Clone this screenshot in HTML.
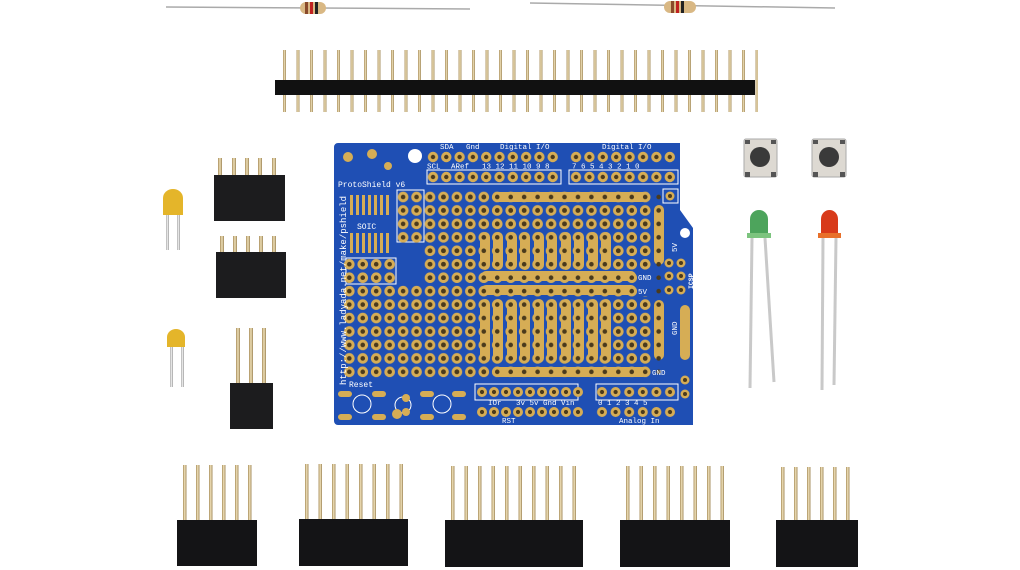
<!DOCTYPE html>
<html><head><style>html,body{margin:0;padding:0;background:#fff;width:1020px;height:570px;overflow:hidden}</style></head>
<body>
<svg width="1020" height="570" viewBox="0 0 1020 570" xmlns="http://www.w3.org/2000/svg" font-family="Liberation Mono, monospace">
<defs>
<linearGradient id="pin" x1="0" x2="1"><stop offset="0" stop-color="#a88e5c"/><stop offset="0.5" stop-color="#efe0b8"/><stop offset="1" stop-color="#9c8455"/></linearGradient>
<linearGradient id="leg" x1="0" x2="1"><stop offset="0" stop-color="#aaa"/><stop offset="0.5" stop-color="#f2f2f2"/><stop offset="1" stop-color="#999"/></linearGradient>
<pattern id="hole" width="13.45" height="13.45" patternUnits="userSpaceOnUse" x="423.3" y="190.3">
<circle cx="6.7" cy="6.7" r="5.3" fill="#d6ad55"/><circle cx="6.7" cy="6.7" r="2.3" fill="#4a3a1c"/></pattern>
<pattern id="dot" width="13.45" height="13.45" patternUnits="userSpaceOnUse" x="423.3" y="190.3">
<circle cx="6.7" cy="6.7" r="2.3" fill="#4a3a1c"/></pattern>
<pattern id="hA" width="13.3" height="40" patternUnits="userSpaceOnUse" x="426.35" y="150">
<circle cx="6.65" cy="7" r="5.2" fill="#d6ad55"/><circle cx="6.65" cy="7" r="2.2" fill="#4a3a1c"/>
<circle cx="6.65" cy="27" r="5.2" fill="#d6ad55"/><circle cx="6.65" cy="27" r="2.2" fill="#4a3a1c"/></pattern>
<pattern id="hB" width="13.4" height="40" patternUnits="userSpaceOnUse" x="569.3" y="150">
<circle cx="6.7" cy="7" r="5.2" fill="#d6ad55"/><circle cx="6.7" cy="7" r="2.2" fill="#4a3a1c"/>
<circle cx="6.7" cy="27" r="5.2" fill="#d6ad55"/><circle cx="6.7" cy="27" r="2.2" fill="#4a3a1c"/></pattern>
<pattern id="hC" width="12" height="40" patternUnits="userSpaceOnUse" x="476" y="385">
<circle cx="6" cy="7" r="5" fill="#d6ad55"/><circle cx="6" cy="7" r="2.1" fill="#4a3a1c"/>
<circle cx="6" cy="27" r="5" fill="#d6ad55"/><circle cx="6" cy="27" r="2.1" fill="#4a3a1c"/></pattern>
<pattern id="hD" width="13.6" height="40" patternUnits="userSpaceOnUse" x="595.3" y="385">
<circle cx="6.7" cy="7" r="5" fill="#d6ad55"/><circle cx="6.7" cy="7" r="2.1" fill="#4a3a1c"/>
<circle cx="6.7" cy="27" r="5" fill="#d6ad55"/><circle cx="6.7" cy="27" r="2.1" fill="#4a3a1c"/></pattern>
<pattern id="p135" width="13.5" height="10" patternUnits="userSpaceOnUse" x="278"><rect x="5" y="0" width="3" height="10" fill="url(#pin)"/></pattern>
</defs>

<!-- resistors -->
<line x1="166" y1="7" x2="470" y2="9" stroke="#aaa" stroke-width="1.5"/>
<rect x="300" y="2" width="26" height="12" rx="6" fill="#d9b884"/>
<rect x="305" y="2" width="3" height="12" fill="#8a4a2a"/><rect x="310" y="2" width="3" height="12" fill="#c02020"/><rect x="315" y="2" width="3" height="12" fill="#222"/>
<line x1="530" y1="3" x2="835" y2="8" stroke="#aaa" stroke-width="1.5"/>
<rect x="664" y="1" width="32" height="12" rx="6" fill="#d9b884"/>
<rect x="671" y="1" width="3" height="12" fill="#8a4a2a"/><rect x="676" y="1" width="3" height="12" fill="#c02020"/><rect x="681" y="1" width="3" height="12" fill="#222"/>

<!-- long header -->
<rect x="278" y="50" width="480" height="62" fill="url(#p135)"/>
<rect x="275" y="80" width="480" height="15" fill="#111"/>

<!-- left headers -->
<g fill="url(#pin)">
<rect x="218" y="158" width="4" height="20"/><rect x="232" y="158" width="4" height="20"/><rect x="245" y="158" width="4" height="20"/><rect x="258" y="158" width="4" height="20"/><rect x="272" y="158" width="4" height="20"/>
<rect x="220" y="236" width="4" height="18"/><rect x="233" y="236" width="4" height="18"/><rect x="246" y="236" width="4" height="18"/><rect x="259" y="236" width="4" height="18"/><rect x="272" y="236" width="4" height="18"/>
<rect x="236" y="328" width="4" height="56"/><rect x="249" y="328" width="4" height="56"/><rect x="262" y="328" width="4" height="56"/>
</g>
<rect x="214" y="175" width="71" height="46" fill="#1c1c1e"/>
<rect x="216" y="252" width="70" height="46" fill="#1c1c1e"/>
<rect x="230" y="383" width="43" height="46" fill="#1c1c1e"/>

<!-- capacitors -->
<rect x="166" y="210" width="3" height="40" fill="url(#leg)"/><rect x="177" y="210" width="3" height="40" fill="url(#leg)"/>
<path d="M163 215 V198 a10 9 0 0 1 20 0 V215 Z" fill="#e4b52a"/>
<rect x="170" y="342" width="3" height="45" fill="url(#leg)"/><rect x="181" y="342" width="3" height="45" fill="url(#leg)"/>
<path d="M167 347 V337 a9 8 0 0 1 18 0 V347 Z" fill="#e4b52a"/>

<!-- board -->
<path d="M338 143 H680 V210 L693 228 V425 H338 a4 4 0 0 1 -4 -4 V147 a4 4 0 0 1 4 -4Z" fill="#1f4fb4"/>
<circle cx="685" cy="233" r="5" fill="#fff"/>
<circle cx="415" cy="156" r="7" fill="#fff"/>
<!-- header silk boxes -->
<g fill="none" stroke="#fff" stroke-width="1">
<rect x="427" y="170" width="134" height="14"/><rect x="569" y="170" width="109" height="14"/>
<rect x="397" y="190" width="27" height="52"/><rect x="346" y="258" width="50" height="26"/>
<rect x="475" y="384" width="103" height="16"/><rect x="596" y="384" width="82" height="16"/>
<rect x="663" y="189" width="15" height="14"/>
</g>
<!-- top header holes -->
<rect x="426" y="150" width="134" height="34" fill="url(#hA)"/>
<rect x="569" y="150" width="108" height="34" fill="url(#hB)"/>
<!-- main grid -->
<rect x="423" y="190" width="229" height="189" fill="url(#hole)"/>
<rect x="342" y="284" width="81" height="95" fill="url(#hole)"/>
<rect x="396" y="190" width="27" height="54" fill="url(#hole)"/>
<rect x="342" y="257" width="54" height="27" fill="url(#hole)"/>
<!-- ICSP holes -->
<g fill="#d6ad55"><circle cx="669" cy="263" r="4.5"/><circle cx="681" cy="263" r="4.5"/><circle cx="669" cy="276" r="4.5"/><circle cx="681" cy="276" r="4.5"/><circle cx="669" cy="290" r="4.5"/><circle cx="681" cy="290" r="4.5"/><circle cx="685" cy="380" r="4.5"/><circle cx="685" cy="394" r="4.5"/><circle cx="670" cy="196" r="4.5"/></g>
<g fill="#4a3a1c"><circle cx="669" cy="263" r="2"/><circle cx="681" cy="263" r="2"/><circle cx="669" cy="276" r="2"/><circle cx="681" cy="276" r="2"/><circle cx="669" cy="290" r="2"/><circle cx="681" cy="290" r="2"/><circle cx="685" cy="380" r="2"/><circle cx="685" cy="394" r="2"/><circle cx="670" cy="196" r="2"/></g>
<!-- SOIC pads -->
<g fill="#d6ad55"><rect x="350" y="195" width="3" height="20"/><rect x="356" y="195" width="3" height="20"/><rect x="362" y="195" width="3" height="20"/><rect x="368" y="195" width="3" height="20"/><rect x="374" y="195" width="3" height="20"/><rect x="380" y="195" width="3" height="20"/><rect x="386" y="195" width="3" height="20"/>
<rect x="350" y="233" width="3" height="20"/><rect x="356" y="233" width="3" height="20"/><rect x="362" y="233" width="3" height="20"/><rect x="368" y="233" width="3" height="20"/><rect x="374" y="233" width="3" height="20"/><rect x="380" y="233" width="3" height="20"/><rect x="386" y="233" width="3" height="20"/></g>
<!-- strips -->
<g fill="#d6ad55">
<rect x="492" y="192" width="156" height="10" rx="5"/>
<rect x="481" y="271" width="155" height="10" rx="5"/>
<rect x="481" y="285" width="155" height="10" rx="5"/>
<rect x="492" y="367" width="156" height="10" rx="5"/>
<rect x="654" y="205" width="10" height="60" rx="5"/><rect x="654" y="300" width="10" height="60" rx="5"/><rect x="680" y="305" width="10" height="55" rx="5"/>
<rect x="480" y="232" width="10" height="38" rx="5"/><rect x="493" y="232" width="10" height="38" rx="5"/><rect x="507" y="232" width="10" height="38" rx="5"/><rect x="520" y="232" width="10" height="38" rx="5"/><rect x="534" y="232" width="10" height="38" rx="5"/><rect x="547" y="232" width="10" height="38" rx="5"/><rect x="561" y="232" width="10" height="38" rx="5"/><rect x="574" y="232" width="10" height="38" rx="5"/><rect x="588" y="232" width="10" height="38" rx="5"/><rect x="601" y="232" width="10" height="38" rx="5"/>
<rect x="480" y="299" width="10" height="64" rx="5"/><rect x="493" y="299" width="10" height="64" rx="5"/><rect x="507" y="299" width="10" height="64" rx="5"/><rect x="520" y="299" width="10" height="64" rx="5"/><rect x="534" y="299" width="10" height="64" rx="5"/><rect x="547" y="299" width="10" height="64" rx="5"/><rect x="561" y="299" width="10" height="64" rx="5"/><rect x="574" y="299" width="10" height="64" rx="5"/><rect x="588" y="299" width="10" height="64" rx="5"/><rect x="601" y="299" width="10" height="64" rx="5"/>
</g>
<rect x="423" y="190" width="245" height="189" fill="url(#dot)"/>
<rect x="637" y="270" width="16" height="26" fill="#1f4fb4"/>
<!-- bottom header holes -->
<rect x="476" y="385" width="108" height="34" fill="url(#hC)"/>
<rect x="595" y="385" width="82" height="34" fill="url(#hD)"/>
<!-- reset area -->
<g fill="none" stroke="#fff"><circle cx="362" cy="404" r="9"/><circle cx="442" cy="404" r="9"/><circle cx="403" cy="405" r="8"/></g>
<g fill="#d6ad55"><rect x="338" y="391" width="14" height="6" rx="3"/><rect x="372" y="391" width="14" height="6" rx="3"/><rect x="338" y="414" width="14" height="6" rx="3"/><rect x="372" y="414" width="14" height="6" rx="3"/>
<rect x="420" y="391" width="14" height="6" rx="3"/><rect x="452" y="391" width="14" height="6" rx="3"/><rect x="420" y="414" width="14" height="6" rx="3"/><rect x="452" y="414" width="14" height="6" rx="3"/>
<circle cx="348" cy="157" r="5"/><circle cx="372" cy="154" r="5"/><circle cx="388" cy="166" r="4"/><circle cx="397" cy="414" r="5"/><circle cx="406" cy="398" r="4"/><circle cx="406" cy="412" r="4"/></g>
<!-- labels -->
<g fill="#fff" font-size="7.5">
<text x="440" y="149">SDA</text><text x="466" y="149">Gnd</text><text x="500" y="149">Digital I/O</text><text x="602" y="149">Digital I/O</text>
<text x="427" y="168.5">SCL</text><text x="451" y="168.5">ARef</text><text x="482" y="168.5">13 12 11 10 9 8</text><text x="572" y="168.5">7 6 5 4 3 2 1 0</text>
<text x="338" y="187" font-size="8">ProtoShield v6</text><text x="357" y="229" font-size="8">SOIC</text>
<text x="349" y="387" font-size="8">Reset</text>
<text x="488" y="405">IOr</text><text x="516" y="405">3v 5v Gnd Vin</text><text x="598" y="405">0 1 2 3 4 5</text>
<text x="502" y="423">RST</text><text x="619" y="423">Analog In</text>
<text x="638" y="280">GND</text><text x="638" y="294">5V</text><text x="652" y="375">GND</text>
<text transform="translate(346,385) rotate(-90)" font-size="9">http://www.ladyada.net/make/pshield</text>
<text transform="translate(677,252) rotate(-90)">5V</text><text transform="translate(677,335) rotate(-90)">GND</text><text transform="translate(693,289) rotate(-90)" font-weight="bold" font-size="6.5">ICSP</text>
</g>

<!-- buttons -->
<rect x="744" y="139" width="33" height="38" rx="2" fill="#ddd9d2" stroke="#aaa"/><circle cx="760" cy="157" r="10" fill="#3a3a3a"/>
<rect x="812" y="139" width="34" height="38" rx="2" fill="#ddd9d2" stroke="#aaa"/><circle cx="829" cy="157" r="10" fill="#3a3a3a"/>
<g fill="#555"><rect x="745" y="140" width="5" height="4"/><rect x="771" y="140" width="5" height="4"/><rect x="745" y="172" width="5" height="5"/><rect x="771" y="172" width="5" height="5"/>
<rect x="813" y="140" width="5" height="4"/><rect x="840" y="140" width="5" height="4"/><rect x="813" y="172" width="5" height="5"/><rect x="840" y="172" width="5" height="5"/></g>
<!-- LEDs -->
<line x1="752" y1="238" x2="750" y2="388" stroke="#c9c9c9" stroke-width="3"/><line x1="765" y1="238" x2="774" y2="382" stroke="#c9c9c9" stroke-width="3"/>
<path d="M750 236 V219 a9 9 0 0 1 18 0 V236Z" fill="#3a9a4a" opacity="0.9"/><rect x="747" y="233" width="24" height="5" fill="#7cc47e"/>
<line x1="823" y1="238" x2="822" y2="390" stroke="#c9c9c9" stroke-width="3"/><line x1="836" y1="238" x2="834" y2="385" stroke="#c9c9c9" stroke-width="3"/>
<path d="M821 236 V219 a8.5 9 0 0 1 17 0 V236Z" fill="#d83a1a"/><rect x="818" y="233" width="23" height="5" fill="#e8702a"/>

<!-- bottom headers -->
<g fill="url(#pin)">
<rect x="183" y="465" width="3.5" height="56"/><rect x="196" y="465" width="3.5" height="56"/><rect x="209" y="465" width="3.5" height="56"/><rect x="222" y="465" width="3.5" height="56"/><rect x="235" y="465" width="3.5" height="56"/><rect x="248" y="465" width="3.5" height="56"/>
<rect x="305" y="464" width="3.5" height="57"/><rect x="318.5" y="464" width="3.5" height="57"/><rect x="332" y="464" width="3.5" height="57"/><rect x="345.5" y="464" width="3.5" height="57"/><rect x="359" y="464" width="3.5" height="57"/><rect x="372.5" y="464" width="3.5" height="57"/><rect x="386" y="464" width="3.5" height="57"/><rect x="399.5" y="464" width="3.5" height="57"/>
<rect x="451" y="466" width="3.5" height="55"/><rect x="464.5" y="466" width="3.5" height="55"/><rect x="478" y="466" width="3.5" height="55"/><rect x="491.5" y="466" width="3.5" height="55"/><rect x="505" y="466" width="3.5" height="55"/><rect x="518.5" y="466" width="3.5" height="55"/><rect x="532" y="466" width="3.5" height="55"/><rect x="545.5" y="466" width="3.5" height="55"/><rect x="559" y="466" width="3.5" height="55"/><rect x="572.5" y="466" width="3.5" height="55"/>
<rect x="626" y="466" width="3.5" height="55"/><rect x="639.5" y="466" width="3.5" height="55"/><rect x="653" y="466" width="3.5" height="55"/><rect x="666.5" y="466" width="3.5" height="55"/><rect x="680" y="466" width="3.5" height="55"/><rect x="693.5" y="466" width="3.5" height="55"/><rect x="707" y="466" width="3.5" height="55"/><rect x="720.5" y="466" width="3.5" height="55"/>
<rect x="781" y="467" width="3.5" height="54"/><rect x="794" y="467" width="3.5" height="54"/><rect x="807" y="467" width="3.5" height="54"/><rect x="820" y="467" width="3.5" height="54"/><rect x="833" y="467" width="3.5" height="54"/><rect x="846" y="467" width="3.5" height="54"/>
</g>
<g fill="#141416">
<rect x="177" y="520" width="80" height="46"/>
<rect x="299" y="519" width="109" height="47"/>
<rect x="445" y="520" width="138" height="47"/>
<rect x="620" y="520" width="110" height="47"/>
<rect x="776" y="520" width="82" height="47"/>
</g>
</svg>
</body></html>
